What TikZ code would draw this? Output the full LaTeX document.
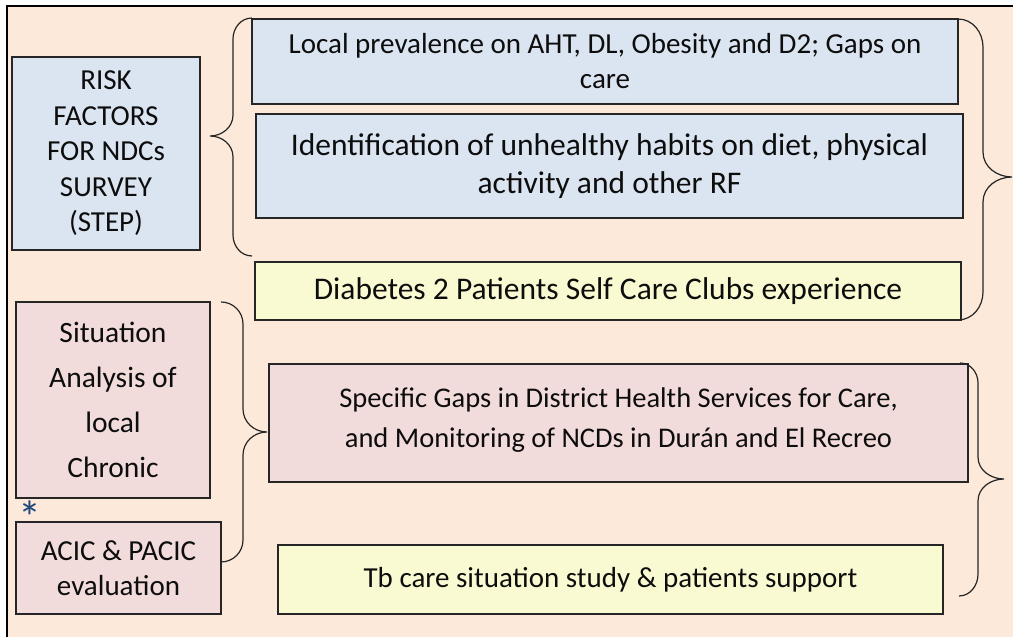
\documentclass[tikz,border=0pt]{standalone}
\usepackage{fontspec}
\setmainfont{Carlito}

\definecolor{peach}{HTML}{FDE9D9}
\definecolor{paleblue}{HTML}{DBE5F1}
\definecolor{palepink}{HTML}{F2DCDB}
\definecolor{paleyellow}{HTML}{FAFAD2}
\definecolor{starblue}{HTML}{1F497D}

\begin{document}
\begin{tikzpicture}[x=1pt, y=1pt,
    box/.style={draw=black!85, line width=1.3pt, align=center, inner sep=0pt, text=black!95},
    bluebox/.style={box, fill=paleblue},
    pinkbox/.style={box, fill=palepink},
    yellowbox/.style={box, fill=paleyellow},
    brace/.style={draw=black!85, line width=1.2pt}]
    \useasboundingbox ( 0, 0 ) rectangle ( 1013, 637 );

    % фон
    \fill [peach] ( 7, 0 ) rectangle ( 1013, 631 );
    \draw [line width=2pt] ( 7, 0 ) -- ( 7, 631 ) -- ( 1013, 631 );

    % risk factors
    \node [bluebox, minimum width=188, minimum height=193, font=\fontsize{29}{35.5}\selectfont] (risk) at ( 106, 483.5 ) {RISK\\FACTORS\\FOR NDCs\\SURVEY\\(STEP)};
    \node [bluebox, minimum width=706, minimum height=85, font=\fontsize{29}{35}\selectfont] (prev) at ( 605, 575.5 ) {Local prevalence on AHT, DL, Obesity and D2; Gaps on\\care};
    \node [bluebox, minimum width=707, minimum height=104, font=\fontsize{31.5}{38}\selectfont] (habits) at ( 609.5, 471 ) {Identification of unhealthy habits on diet, physical\\activity and other RF};
    \node [yellowbox, minimum width=706, minimum height=58, font=\fontsize{31.5}{38}\selectfont] (clubs) at ( 608, 346 ) {Diabetes 2 Patients Self Care Clubs experience};

    % situation analysis
    \node [pinkbox, minimum width=194, minimum height=196, font=\fontsize{29.5}{45}\selectfont] (situ) at ( 113, 237 ) {Situation\\Analysis of\\local\\Chronic};
    \node [pinkbox, minimum width=205, minimum height=92, font=\fontsize{29}{35}\selectfont] (acic) at ( 118.5, 69 ) {ACIC \& PACIC\\evaluation};
    \node [text=starblue, font=\fontsize{46}{46}\selectfont, inner sep=0pt, anchor=base] (star) at ( 30, 103 ) {*};
    \node [pinkbox, minimum width=699, minimum height=118, font=\fontsize{28.5}{40}\selectfont] (gaps) at ( 618.5, 214 ) {Specific Gaps in District Health Services for Care,\\and Monitoring of NCDs in Durán and El Recreo\\[-30pt]\mbox{}};
    \node [yellowbox, minimum width=665, minimum height=69, font=\fontsize{29}{35}\selectfont] (tb) at ( 610.5, 57.5 ) {Tb care situation study \& patients support};

    % скобки
    \draw [brace] ( 252, 619 ) to [out=180,in=90] ( 233, 598 ) -- ( 233, 522 ) to [out=-90,in=0] ( 210, 501 )
        to [out=0,in=90] ( 233, 480 ) -- ( 233, 402 ) to [out=-90,in=180] ( 252, 381 );
    \draw [brace] ( 958, 618 ) to [out=0,in=90] ( 983, 590 ) -- ( 983, 485 ) to [out=-90,in=180] ( 1012, 460 )
        to [out=180,in=90] ( 983, 435 ) -- ( 983, 345 ) to [out=-90,in=0] ( 958, 317 );
    \draw [brace] ( 221, 335 ) to [out=0,in=90] ( 243, 313 ) -- ( 243, 228 ) to [out=-90,in=180] ( 267, 205 )
        to [out=180,in=90] ( 243, 182 ) -- ( 243, 97 ) to [out=-90,in=0] ( 221, 75 );
    \draw [brace] ( 960, 274 ) to [out=0,in=90] ( 978, 254 ) -- ( 978, 180 ) to [out=-90,in=180] ( 1004, 158 )
        to [out=180,in=90] ( 978, 136 ) -- ( 978, 63 ) to [out=-90,in=0] ( 959, 41 );
\end{tikzpicture}
\end{document}
